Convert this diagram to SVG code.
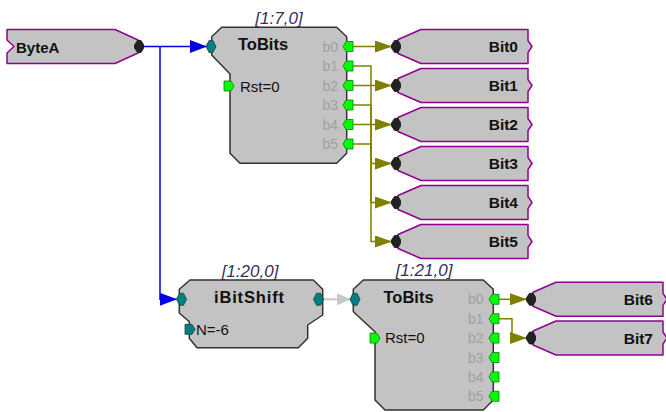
<svg xmlns="http://www.w3.org/2000/svg" xmlns:xlink="http://www.w3.org/1999/xlink" width="666" height="412" viewBox="0 0 666 412">
<style>
text{font-family:"Liberation Sans",Arial,sans-serif}
.blk{fill:#c3c3c3;stroke:#333;stroke-width:1.5;stroke-linejoin:round}
.tag{fill:#c3c3c3;stroke:#900090;stroke-width:1.5;stroke-linejoin:round}
.ttl{font-size:16.5px;font-weight:bold;fill:#111}
.tagt{font-size:15.5px;font-weight:bold;fill:#111;text-anchor:end}
.idx{font-size:17px;font-style:italic;fill:#333355;text-anchor:middle}
.par{font-size:15px;fill:#111}
.bl{font-size:14px;fill:#a0a0a0;text-anchor:end}
.gp{fill:#00ff00;stroke:#117711;stroke-width:0.8}
.tp{fill:#008080;stroke:#114444;stroke-width:0.8}
.kp{fill:#222;stroke:#111;stroke-width:0.8}
.ol{fill:none;stroke:#808000;stroke-width:1.5}
.bw{fill:none;stroke:#0000e0;stroke-width:1.5}
.gw{fill:none;stroke:#c8c8c8;stroke-width:2}
</style>
<defs>
<marker id="aO" markerUnits="userSpaceOnUse" markerWidth="17" markerHeight="12" refX="17" refY="6" orient="auto"><path d="M0,0 L17,6 L0,12 Z" fill="#808000"/></marker>
<marker id="aB" markerUnits="userSpaceOnUse" markerWidth="17" markerHeight="13" refX="17" refY="6.5" orient="auto"><path d="M0,0 L17,6.5 L0,13 Z" fill="#0000e0"/></marker>
<marker id="aG" markerUnits="userSpaceOnUse" markerWidth="14" markerHeight="12" refX="14" refY="6" orient="auto"><path d="M0,0 L14,6 L0,12 Z" fill="#c8c8c8"/></marker>
<path id="tagR" d="M2,-7 L25,-17 L132,-17 L132,-6 L136,0 L132,6 L132,17 L25,17 L2,7 Z"/>
<path id="pinOut" d="M-5,0 L-2,-5 L5,-5 L5,5 L-2,5 Z"/>
<path id="pinIn" d="M-5,-5 L2,-5 L5,0 L2,5 L-5,5 Z"/>
<path id="pinHex" d="M-5,0 L-2,-6 L2,-6 L5,0 L2,6 L-2,6 Z"/>
<path id="pinK" d="M-1.5,-6 L2,-6 L4.5,-2 L4.5,2 L2,6 L-1.5,6 L-4.5,1.5 L-4.5,-1.5 Z"/>
</defs>

<g id="connectors">
<path class="bw" d="M143,46.5 H207" marker-end="url(#aB)"/>
<path class="bw" d="M160,46.5 V299.3 H177" marker-end="url(#aB)"/>
<path class="ol" d="M352,46.5 H392" marker-end="url(#aO)"/>
<path class="ol" d="M352,66 H371 V85.5 H392" marker-end="url(#aO)"/>
<path class="ol" d="M352,85.5 H371 V124.5 H392" marker-end="url(#aO)"/>
<path class="ol" d="M352,105 H371 V163.5 H392" marker-end="url(#aO)"/>
<path class="ol" d="M352,124.5 H371 V202.5 H392" marker-end="url(#aO)"/>
<path class="ol" d="M352,144 H371 V241.5 H392" marker-end="url(#aO)"/>
<path class="gw" d="M323,299.3 H351" marker-end="url(#aG)"/>
<path class="ol" d="M497,299.3 H527" marker-end="url(#aO)"/>
<path class="ol" d="M497,318.7 H512 V338 H527" marker-end="url(#aO)"/>
</g>

<g id="ByteA">
<path class="tag" d="M7,29.5 L115,29.5 L138,40 L138,53 L115,63.5 L7,63.5 L7,53 L14,46.5 L7,40 Z"/>
<text class="par" x="16" y="53" style="font-weight:bold">ByteA</text>
<use href="#pinK" class="kp" x="139" y="46.5"/>
</g>

<g id="ToBits1">
<path class="blk" d="M221.7,27.3 L336.7,27.3 L346.7,36.7 L346.7,153.3 L336.7,163.3 L240,163.3 L230,153.3 L230,74 L211.7,55 L211.7,36.7 Z"/>
<text class="idx" x="279" y="24">[1:7,0]</text>
<text class="ttl" x="238" y="50">ToBits</text>
<text class="par" x="240" y="91.5">Rst=0</text>
<text class="bl" x="338" y="51.5">b0</text>
<text class="bl" x="338" y="71">b1</text>
<text class="bl" x="338" y="90.5">b2</text>
<text class="bl" x="338" y="110">b3</text>
<text class="bl" x="338" y="129.5">b4</text>
<text class="bl" x="338" y="149">b5</text>
<use href="#pinHex" class="tp" x="211" y="46.5"/>
<use href="#pinIn" class="gp" x="229" y="86"/>
<use href="#pinOut" class="gp" x="348" y="46.5"/>
<use href="#pinOut" class="gp" x="348" y="66"/>
<use href="#pinOut" class="gp" x="348" y="85.5"/>
<use href="#pinOut" class="gp" x="348" y="105"/>
<use href="#pinOut" class="gp" x="348" y="124.5"/>
<use href="#pinOut" class="gp" x="348" y="144"/>
</g>

<g id="Bit0"><use href="#tagR" class="tag" x="396" y="46.5"/><text class="tagt" x="518" y="52">Bit0</text><use href="#pinK" class="kp" x="396" y="46.5"/></g>
<g id="Bit1"><use href="#tagR" class="tag" x="396" y="85.5"/><text class="tagt" x="518" y="91">Bit1</text><use href="#pinK" class="kp" x="396" y="85.5"/></g>
<g id="Bit2"><use href="#tagR" class="tag" x="396" y="124.5"/><text class="tagt" x="518" y="130">Bit2</text><use href="#pinK" class="kp" x="396" y="124.5"/></g>
<g id="Bit3"><use href="#tagR" class="tag" x="396" y="163.5"/><text class="tagt" x="518" y="169">Bit3</text><use href="#pinK" class="kp" x="396" y="163.5"/></g>
<g id="Bit4"><use href="#tagR" class="tag" x="396" y="202.5"/><text class="tagt" x="518" y="208">Bit4</text><use href="#pinK" class="kp" x="396" y="202.5"/></g>
<g id="Bit5"><use href="#tagR" class="tag" x="396" y="241.5"/><text class="tagt" x="518" y="247">Bit5</text><use href="#pinK" class="kp" x="396" y="241.5"/></g>

<g id="iBitShift">
<path class="blk" d="M190,280 L313.3,280 L322.7,289.3 L322.7,315 L307.7,325 L307.7,338.3 L298.3,347.7 L197,347.7 L189.3,338.3 L189.3,321.7 L179.3,313 L179.3,289.3 Z"/>
<text class="idx" x="250" y="276.5">[1:20,0]</text>
<text class="ttl" x="214" y="303" textLength="70">iBitShift</text>
<text class="par" x="196" y="334.5">N=-6</text>
<use href="#pinHex" class="tp" x="181.5" y="299.3"/>
<use href="#pinIn" class="tp" x="190" y="329.3"/>
<use href="#pinHex" class="tp" x="318.5" y="299.3"/>
</g>

<g id="ToBits2">
<path class="blk" d="M363.3,280 L483.3,280 L493.3,289.3 L493.3,400 L483.3,410 L385,410 L375,400 L375,331.7 L353.3,311.7 L353.3,289.3 Z"/>
<text class="idx" x="424" y="276">[1:21,0]</text>
<text class="ttl" x="383.5" y="302.7">ToBits</text>
<text class="par" x="385" y="343">Rst=0</text>
<text class="bl" x="483.5" y="304.3">b0</text>
<text class="bl" x="483.5" y="323.7">b1</text>
<text class="bl" x="483.5" y="343.1">b2</text>
<text class="bl" x="483.5" y="362.5">b3</text>
<text class="bl" x="483.5" y="381.9">b4</text>
<text class="bl" x="483.5" y="401.3">b5</text>
<use href="#pinHex" class="tp" x="355" y="299.3"/>
<use href="#pinIn" class="gp" x="375" y="338.1"/>
<use href="#pinOut" class="gp" x="494" y="299.3"/>
<use href="#pinOut" class="gp" x="494" y="318.7"/>
<use href="#pinOut" class="gp" x="494" y="338.1"/>
<use href="#pinOut" class="gp" x="494" y="357.5"/>
<use href="#pinOut" class="gp" x="494" y="376.9"/>
<use href="#pinOut" class="gp" x="494" y="396.3"/>
</g>

<g id="Bit6"><use href="#tagR" class="tag" x="531" y="299.3"/><text class="tagt" x="653" y="305">Bit6</text><use href="#pinK" class="kp" x="531" y="299.3"/></g>
<g id="Bit7"><use href="#tagR" class="tag" x="531" y="338"/><text class="tagt" x="653" y="343.7">Bit7</text><use href="#pinK" class="kp" x="531" y="338"/></g>
</svg>
